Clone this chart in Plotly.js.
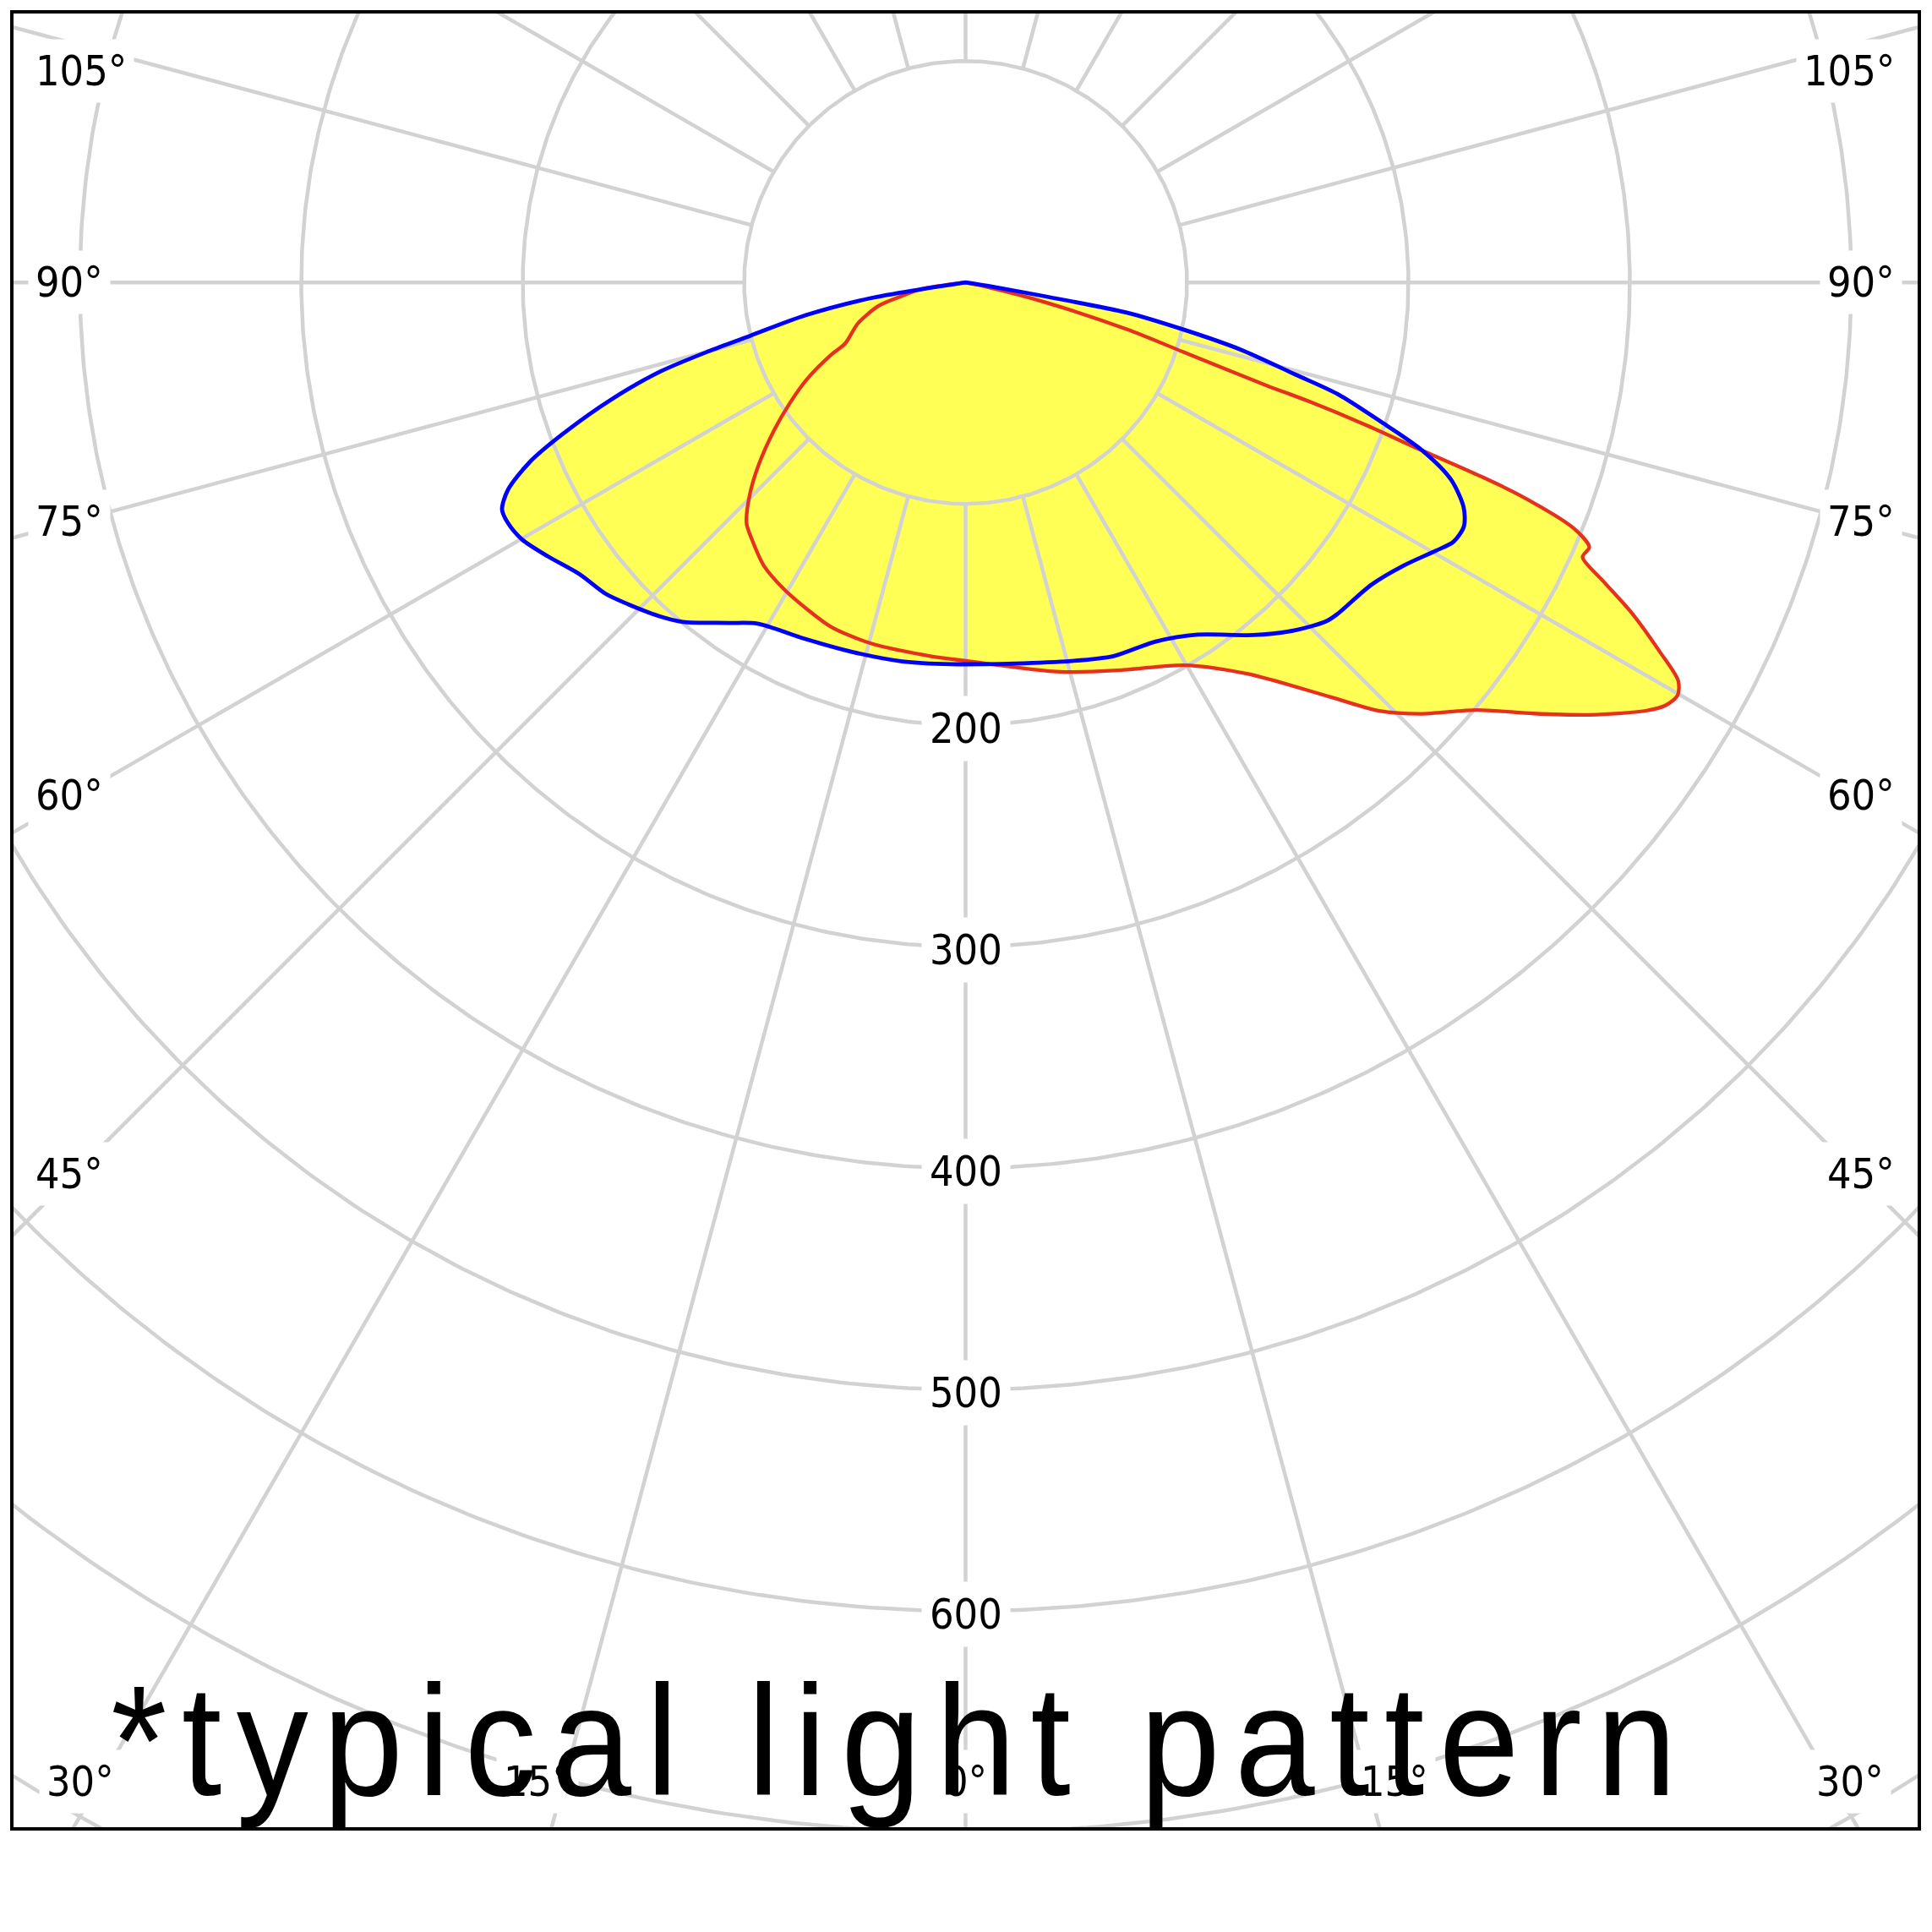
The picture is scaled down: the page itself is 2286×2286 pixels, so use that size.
<!DOCTYPE html>
<html>
<head>
<meta charset="utf-8">
<script src="https://cdn.plot.ly/plotly-3.0.1.min.js"></script>
<style>html,body{margin:0;padding:0;background:#fff;}</style>
</head>
<body>
<div id="chart" style="width:2286px;height:2286px"></div>
<script>
// ---------------- data (candela per angle, 0° = nadir, + = right side) ----------------
const blueAngles = [-90, -82, -81.3, -80.6, -78.4, -76.1, -75.0, -73.7, -71.7, -69.4, -67.6, -65.6, -63.9, -62.3, -59.9, -56.7, -52.9, -49.2, -46.3, -42.5, -39.8, -34.9, -31.4, -24.1, -16.8, -9.5, -2.2, 7.3, 15.6, 21.6, 27.9, 33.4, 39.2, 43.5, 46.8, 48.3, 53.3, 57.1, 60.3, 62.0, 63.9, 65.7, 67.9, 69.8, 71.5, 73.3, 74.4, 76.3, 77.8, 79.4, 80.1, 81, 82, 90];
const blueValues = [0, 3, 21, 43.9, 73.8, 100.1, 120.3, 144.1, 168.7, 194.2, 212.9, 227, 233.1, 233.5, 231.5, 225.5, 218.5, 215, 210.5, 204.5, 199.5, 187.5, 180.5, 176.5, 174.5, 173.5, 172.5, 173.5, 177.5, 181.5, 183.5, 190.5, 205.5, 216.5, 223.5, 225, 228.5, 235.5, 244.5, 249.5, 250.6, 246.8, 236.6, 219.8, 197.4, 175.5, 154.7, 127.4, 100.6, 74, 35.1, 12, 0, 0];

const redAngles = [-90, -83, -81.2, -77.5, -74.8, -69.2, -63.1, -61.7, -58.6, -55.6, -52.4, -48.5, -45.4, -42.3, -39.7, -35.5, -30.6, -25.9, -21.3, -14.8, -5.4, 0.3, 13.7, 22.2, 29.7, 35.8, 41.3, 44.0, 46.5, 50.1, 52.8, 55.3, 57.8, 58.9, 59.9, 60.8, 62.0, 63.6, 64.9, 66.0, 67.0, 68.0, 69.0, 69.4, 69.8, 70.4, 70.9, 71.1, 72.3, 73.8, 76.1, 78, 80, 90];
const redValues = [0, 3, 21, 31, 41, 52, 61, 69, 84, 96, 109, 125, 137, 147, 151, 157, 161, 164, 167, 168.5, 169.5, 171, 181, 189, 199, 218, 249, 269, 283, 301, 322, 343, 363, 369.5, 371.7, 368.7, 355, 336, 318, 305, 306, 296, 268, 247, 219, 192, 164, 144, 103, 76, 36, 10, 0, 0];

const ringValues = [100, 200, 300, 400, 500, 600, 700, 800];
const ringLabels = ['200', '300', '400', '500', '600'];
const spokeAngles = [0, 15, 30, 45, 60, 75, 90, 105, 120, 135, 150, 165, 180, 195, 210, 225, 240, 255, 270, 285, 300, 315, 330, 345];
const sideLabels = ['105°', '90°', '75°', '60°', '45°'];
const bottomLabels = ['30°', '15°', '0°', '15°', '30°'];
const noteText = '*typical light pattern';

// ---------------- geometry / style ----------------
const W = 2286, H = 2286;
const M = {l: 14, r: 15, t: 14, b: 122};
const CX = 1142.5, CY = 334.2, S = 2.62;       // pixel centre of the diagram, px per cd
const px2x = px => (px - CX) / S;
const py2y = py => (CY - py) / S;
const xr = [px2x(M.l), px2x(W - M.r)];
const yr = [py2y(H - M.b), py2y(M.t)];

const GRID = '#d2d2d2', YELLOW = '#ffff55', BLUE = '#0000ff', RED = '#e5321f';
const LABEL_FONT = {family: 'DejaVu Sans Condensed, DejaVu Sans, sans-serif', size: 50, color: '#000'};

function toXY(angles, values) {
  const x = [], y = [];
  for (let i = 0; i < angles.length; i++) {
    const a = angles[i] * Math.PI / 180;
    x.push(values[i] * Math.sin(a));
    y.push(-values[i] * Math.cos(a));
  }
  return {x, y};
}
const blue = toXY(blueAngles, blueValues);
const red = toXY(redAngles, redValues);

// grid
const gx = [], gy = [];
ringValues.forEach(r => {
  for (let d = 0; d <= 360; d += 0.5) {
    const a = d * Math.PI / 180;
    gx.push(r * Math.sin(a)); gy.push(-r * Math.cos(a));
  }
  gx.push(null); gy.push(null);
});
spokeAngles.forEach(d => {
  const a = d * Math.PI / 180;
  gx.push(100 * Math.sin(a), 1600 * Math.sin(a), null);
  gy.push(-100 * Math.cos(a), -1600 * Math.cos(a), null);
});

const SM = 0.8;
const traces = [
  {x: red.x, y: red.y, mode: 'lines', fill: 'toself', fillcolor: YELLOW, line: {width: 0, shape: 'spline', smoothing: SM}, hoverinfo: 'skip'},
  {x: blue.x, y: blue.y, mode: 'lines', fill: 'toself', fillcolor: YELLOW, line: {width: 0, shape: 'spline', smoothing: SM}, hoverinfo: 'skip'},
  {x: gx, y: gy, mode: 'lines', line: {color: GRID, width: 4.5}, hoverinfo: 'skip', connectgaps: false},
  {x: red.x, y: red.y, mode: 'lines', line: {color: RED, width: 4.3, shape: 'spline', smoothing: SM}, hoverinfo: 'skip'},
  {x: blue.x, y: blue.y, mode: 'lines', line: {color: BLUE, width: 4.8, shape: 'spline', smoothing: SM}, hoverinfo: 'skip'}
];

// ---------------- labels ----------------
const annotations = [];
const sideY = [84, 334, 617, 941, 1389];
sideLabels.forEach((t, i) => {
  annotations.push({text: t, xref: 'x', yref: 'y', x: px2x(33), y: py2y(sideY[i]), xanchor: 'left', yanchor: 'middle',
    showarrow: false, font: LABEL_FONT, bgcolor: '#ffffff', borderpad: 8});
  annotations.push({text: t, xref: 'x', yref: 'y', x: px2x(2251), y: py2y(sideY[i]), xanchor: 'right', yanchor: 'middle',
    showarrow: false, font: LABEL_FONT, bgcolor: '#ffffff', borderpad: 8});
});
const bottomX = [95, 636, 1142.5, 1650, 2189];
bottomLabels.forEach((t, i) => {
  annotations.push({text: t, xref: 'x', yref: 'y', x: px2x(bottomX[i]), y: py2y(2108), xanchor: 'center', yanchor: 'middle',
    showarrow: false, font: LABEL_FONT, bgcolor: '#ffffff', borderpad: 8});
});
ringLabels.forEach(t => {
  const v = parseFloat(t);
  annotations.push({text: t, xref: 'x', yref: 'y', x: 0, y: -v - 4 / S, xanchor: 'center', yanchor: 'middle',
    showarrow: false, font: LABEL_FONT, bgcolor: '#ffffff', borderpad: 9});
});
annotations.push({text: noteText, xref: 'x', yref: 'y', x: px2x(1066), y: py2y(2060), xanchor: 'center', yanchor: 'middle',
  showarrow: false, font: {family: 'Liberation Sans, Arial, sans-serif', size: 185, color: '#000'}});
const noteIdx = annotations.length - 1;
document.head.insertAdjacentHTML('beforeend',
  '<style>.annotation[data-index="' + noteIdx + '"] text.annotation-text{letter-spacing:19px;' +
  'transform-box:fill-box;transform-origin:center;transform:scaleX(0.92);}</style>');

const layout = {
  width: W, height: H,
  margin: M,
  paper_bgcolor: '#ffffff', plot_bgcolor: '#ffffff',
  showlegend: false,
  xaxis: {range: xr, visible: false, fixedrange: true},
  yaxis: {range: yr, visible: false, fixedrange: true},
  shapes: [{type: 'rect', xref: 'paper', yref: 'paper', x0: 0, x1: 1, y0: 0, y1: 1,
    line: {color: '#000', width: 4}, layer: 'above'}],
  annotations: annotations
};

Plotly.newPlot('chart', traces, layout, {displayModeBar: false, staticPlot: true});
</script>
</body>
</html>
